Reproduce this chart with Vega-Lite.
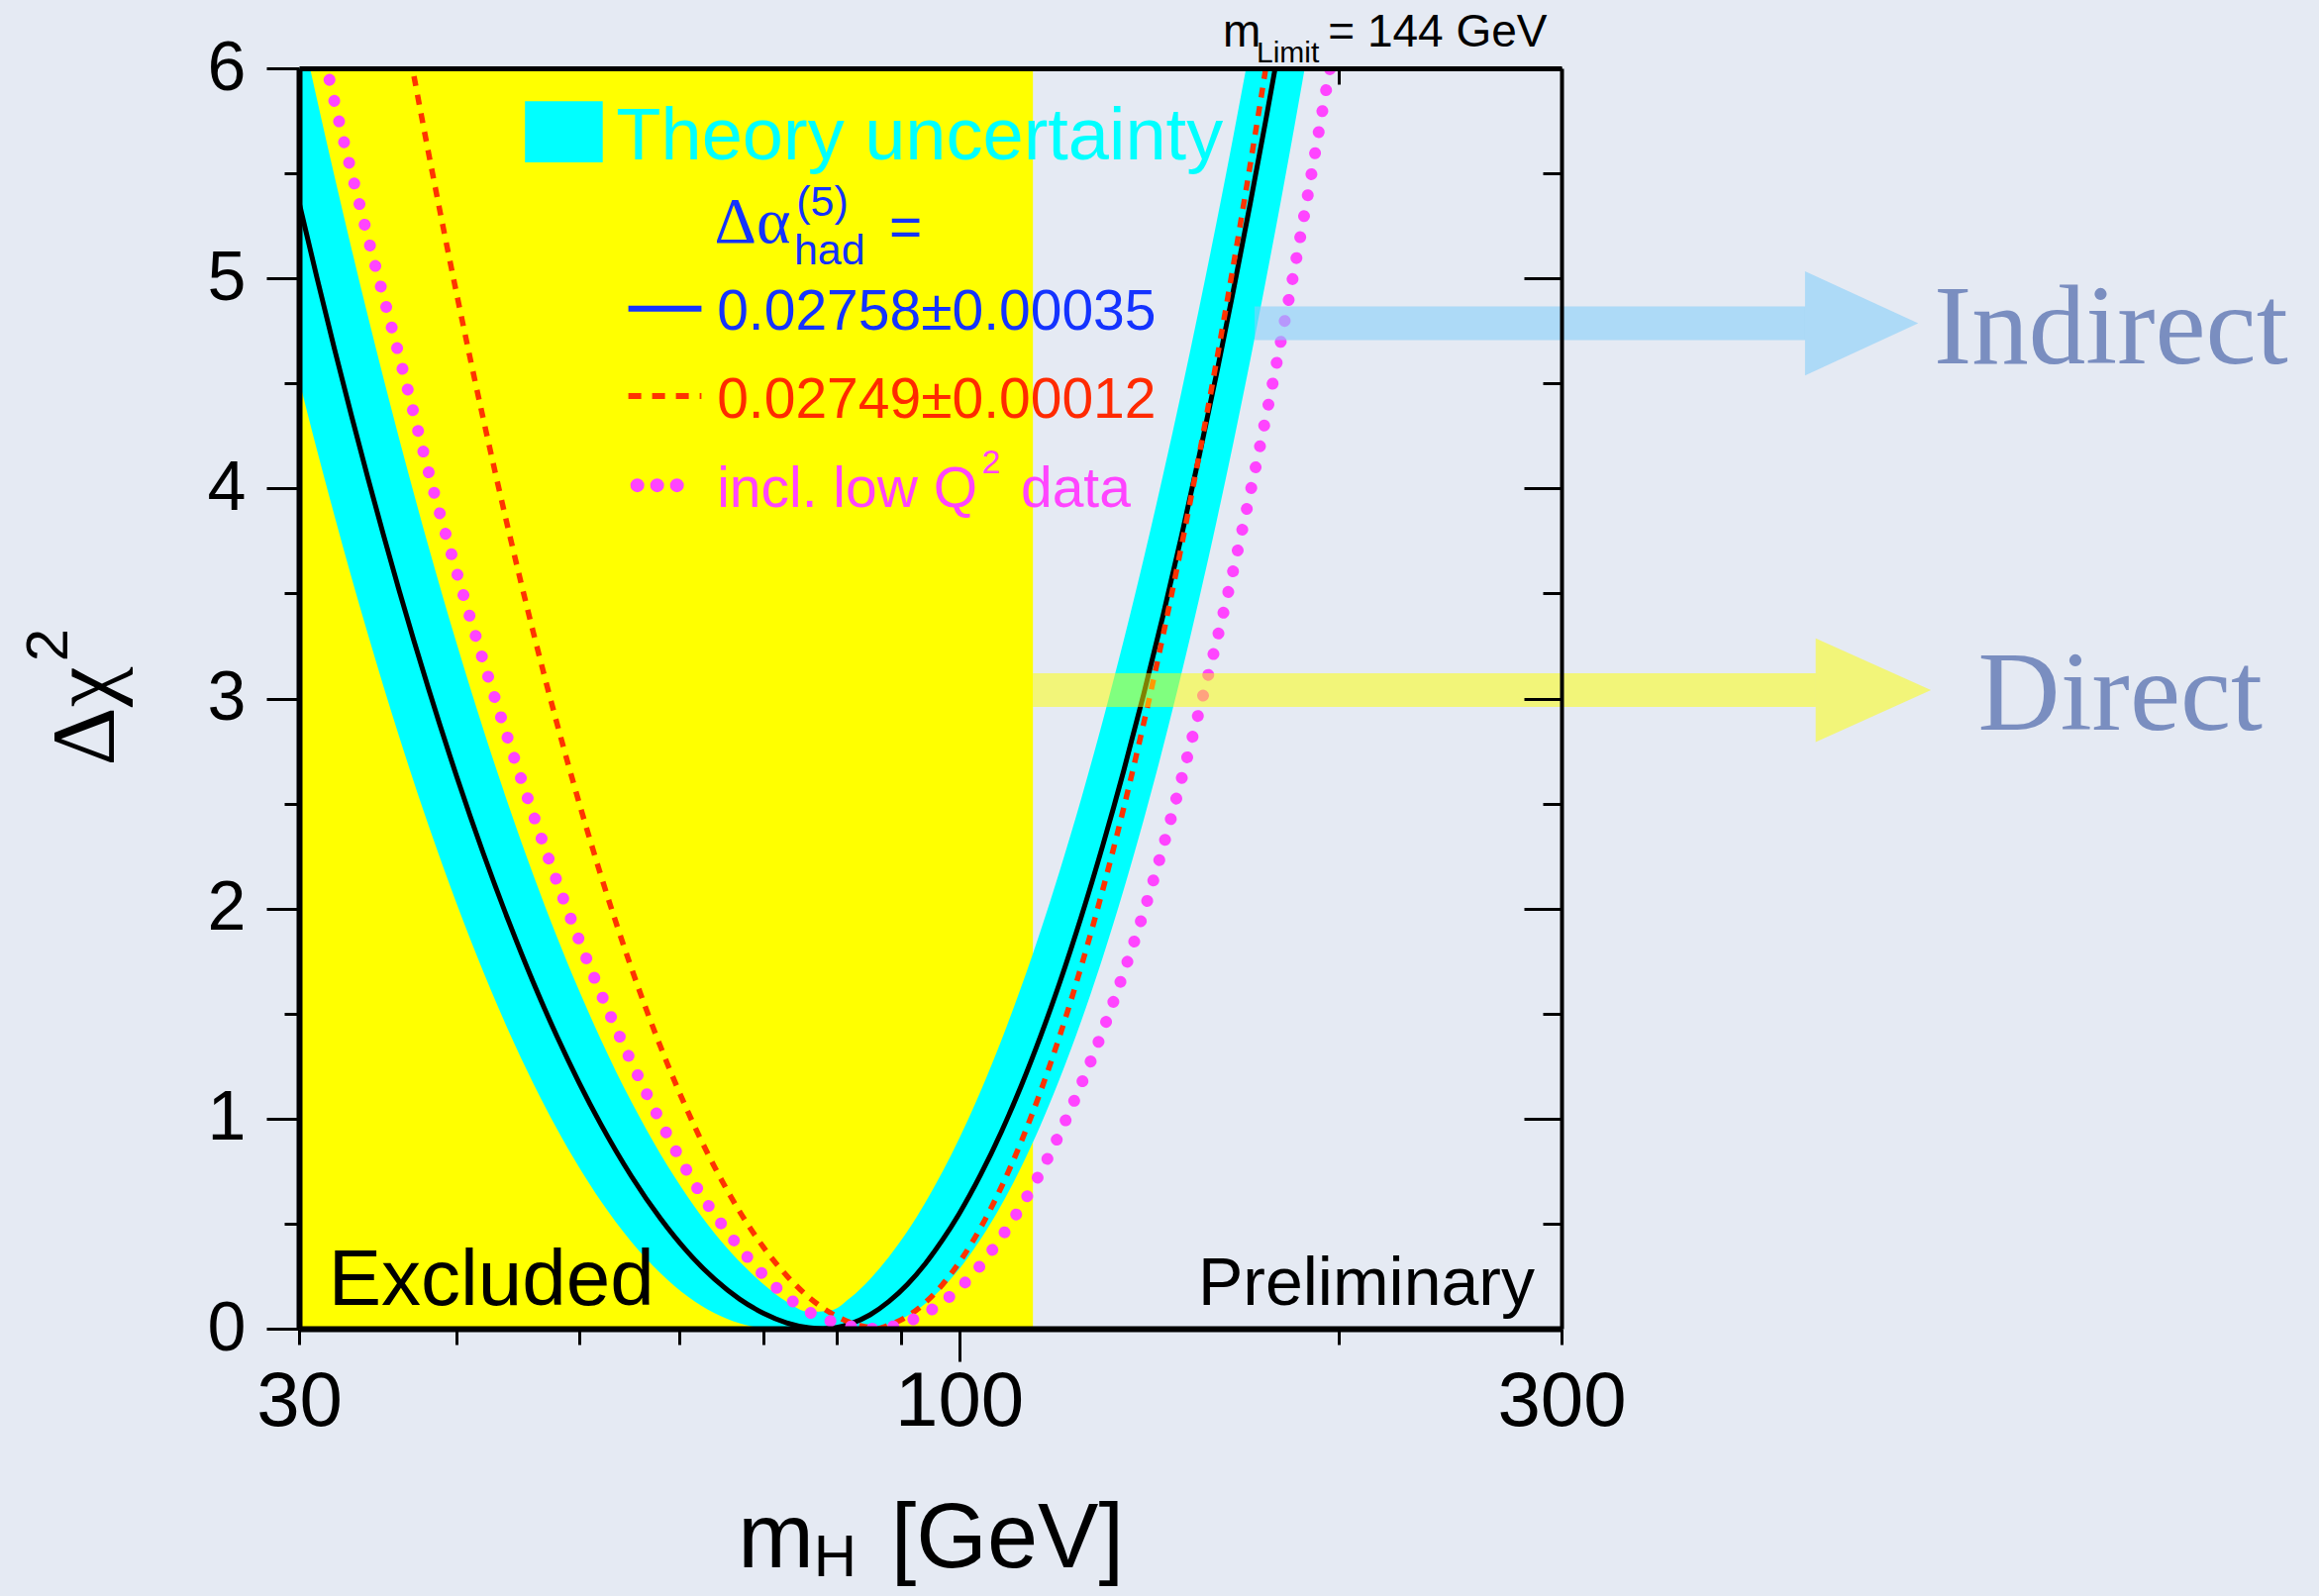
{
  "$schema": "https://vega.github.io/schema/vega-lite/v6.json",
  "width": 1275,
  "height": 1273,
  "autosize": {"type": "none"},
  "padding": {"left": 302, "top": 69, "right": 765, "bottom": 270},
  "background": "#E5EAF3",
  "config": {"view": {"stroke": null}, "text": {"font": "Liberation Sans"}, "axis": {"labelFont": "Liberation Sans"}},
  "resolve": {"axis": {"x": "independent", "y": "independent"}},
  "datasets": {
    "excluded": [{"mH": 30, "mH2": 114.4, "lo": 0, "hi": 6}],
    "band": [
      {"mH": 30, "lo": 4.517, "hi": 6.239}, {"mH": 31, "lo": 4.182, "hi": 5.851}, {"mH": 32, "lo": 3.871, "hi": 5.487},
      {"mH": 33, "lo": 3.58, "hi": 5.146}, {"mH": 34, "lo": 3.31, "hi": 4.825}, {"mH": 35, "lo": 3.057, "hi": 4.523},
      {"mH": 36, "lo": 2.821, "hi": 4.24}, {"mH": 38, "lo": 2.394, "hi": 3.721}, {"mH": 40, "lo": 2.022, "hi": 3.26},
      {"mH": 42, "lo": 1.697, "hi": 2.85}, {"mH": 44, "lo": 1.413, "hi": 2.485}, {"mH": 46, "lo": 1.167, "hi": 2.159},
      {"mH": 48, "lo": 0.953, "hi": 1.868}, {"mH": 50, "lo": 0.768, "hi": 1.61}, {"mH": 52, "lo": 0.609, "hi": 1.379},
      {"mH": 55, "lo": 0.414, "hi": 1.08}, {"mH": 58, "lo": 0.264, "hi": 0.831}, {"mH": 61, "lo": 0.152, "hi": 0.625},
      {"mH": 64, "lo": 0.074, "hi": 0.455}, {"mH": 67, "lo": 0.026, "hi": 0.319}, {"mH": 70, "lo": 0.003, "hi": 0.211},
      {"mH": 73, "lo": 0, "hi": 0.128}, {"mH": 76, "lo": 0, "hi": 0.08}, {"mH": 79, "lo": 0, "hi": 0.085},
      {"mH": 82, "lo": 0, "hi": 0.147}, {"mH": 85, "lo": 0.002, "hi": 0.236}, {"mH": 88, "lo": 0.021, "hi": 0.343},
      {"mH": 91, "lo": 0.061, "hi": 0.464}, {"mH": 94, "lo": 0.119, "hi": 0.6}, {"mH": 97, "lo": 0.194, "hi": 0.747},
      {"mH": 100, "lo": 0.284, "hi": 0.905}, {"mH": 104, "lo": 0.426, "hi": 1.131}, {"mH": 108, "lo": 0.589, "hi": 1.373},
      {"mH": 112, "lo": 0.771, "hi": 1.628}, {"mH": 116, "lo": 0.969, "hi": 1.894}, {"mH": 120, "lo": 1.183, "hi": 2.171},
      {"mH": 125, "lo": 1.468, "hi": 2.528}, {"mH": 130, "lo": 1.771, "hi": 2.898}, {"mH": 135, "lo": 2.09, "hi": 3.277},
      {"mH": 140, "lo": 2.422, "hi": 3.665}, {"mH": 145, "lo": 2.765, "hi": 4.06}, {"mH": 150, "lo": 3.119, "hi": 4.46},
      {"mH": 155, "lo": 3.481, "hi": 4.865}, {"mH": 160, "lo": 3.85, "hi": 5.274}, {"mH": 165, "lo": 4.226, "hi": 5.687},
      {"mH": 170, "lo": 4.607, "hi": 6.101}, {"mH": 175, "lo": 4.994, "hi": 6.5}, {"mH": 180, "lo": 5.383, "hi": 6.9},
      {"mH": 185, "lo": 5.777, "hi": 7.3}, {"mH": 190, "lo": 6.173, "hi": 7.7}
    ],
    "curves": [
      {"mH": 30, "chi": 5.362, "series": "fit"}, {"mH": 31, "chi": 5.002, "series": "fit"}, {"mH": 32, "chi": 4.665, "series": "fit"},
      {"mH": 33, "chi": 4.35, "series": "fit"}, {"mH": 34, "chi": 4.054, "series": "fit"}, {"mH": 35, "chi": 3.777, "series": "fit"},
      {"mH": 36, "chi": 3.517, "series": "fit"}, {"mH": 38, "chi": 3.045, "series": "fit"}, {"mH": 40, "chi": 2.628, "series": "fit"},
      {"mH": 42, "chi": 2.26, "series": "fit"}, {"mH": 44, "chi": 1.935, "series": "fit"}, {"mH": 46, "chi": 1.647, "series": "fit"},
      {"mH": 48, "chi": 1.394, "series": "fit"}, {"mH": 50, "chi": 1.171, "series": "fit"}, {"mH": 52, "chi": 0.975, "series": "fit"},
      {"mH": 55, "chi": 0.726, "series": "fit"}, {"mH": 58, "chi": 0.524, "series": "fit"}, {"mH": 61, "chi": 0.362, "series": "fit"},
      {"mH": 64, "chi": 0.236, "series": "fit"}, {"mH": 67, "chi": 0.141, "series": "fit"}, {"mH": 70, "chi": 0.073, "series": "fit"},
      {"mH": 73, "chi": 0.028, "series": "fit"}, {"mH": 76, "chi": 0.005, "series": "fit"}, {"mH": 78, "chi": 0.0, "series": "fit"},
      {"mH": 80, "chi": 0.006, "series": "fit"}, {"mH": 82, "chi": 0.023, "series": "fit"}, {"mH": 85, "chi": 0.066, "series": "fit"},
      {"mH": 88, "chi": 0.13, "series": "fit"}, {"mH": 91, "chi": 0.211, "series": "fit"}, {"mH": 94, "chi": 0.309, "series": "fit"},
      {"mH": 97, "chi": 0.422, "series": "fit"}, {"mH": 100, "chi": 0.547, "series": "fit"}, {"mH": 104, "chi": 0.733, "series": "fit"},
      {"mH": 108, "chi": 0.937, "series": "fit"}, {"mH": 112, "chi": 1.157, "series": "fit"}, {"mH": 116, "chi": 1.392, "series": "fit"},
      {"mH": 120, "chi": 1.639, "series": "fit"}, {"mH": 125, "chi": 1.964, "series": "fit"}, {"mH": 130, "chi": 2.304, "series": "fit"},
      {"mH": 135, "chi": 2.656, "series": "fit"}, {"mH": 140, "chi": 3.02, "series": "fit"}, {"mH": 145, "chi": 3.392, "series": "fit"},
      {"mH": 150, "chi": 3.773, "series": "fit"}, {"mH": 155, "chi": 4.16, "series": "fit"}, {"mH": 160, "chi": 4.553, "series": "fit"},
      {"mH": 165, "chi": 4.951, "series": "fit"}, {"mH": 170, "chi": 5.353, "series": "fit"}, {"mH": 175, "chi": 5.758, "series": "fit"},
      {"mH": 180, "chi": 6.166, "series": "fit"},
      {"mH": 34, "chi": 7.197, "series": "alt"}, {"mH": 36, "chi": 6.349, "series": "alt"}, {"mH": 37, "chi": 5.961, "series": "alt"},
      {"mH": 38, "chi": 5.595, "series": "alt"}, {"mH": 40, "chi": 4.924, "series": "alt"}, {"mH": 42, "chi": 4.326, "series": "alt"},
      {"mH": 44, "chi": 3.791, "series": "alt"}, {"mH": 46, "chi": 3.313, "series": "alt"}, {"mH": 48, "chi": 2.886, "series": "alt"},
      {"mH": 50, "chi": 2.504, "series": "alt"}, {"mH": 52, "chi": 2.162, "series": "alt"}, {"mH": 55, "chi": 1.717, "series": "alt"},
      {"mH": 58, "chi": 1.343, "series": "alt"}, {"mH": 61, "chi": 1.03, "series": "alt"}, {"mH": 64, "chi": 0.771, "series": "alt"},
      {"mH": 67, "chi": 0.558, "series": "alt"}, {"mH": 70, "chi": 0.387, "series": "alt"}, {"mH": 73, "chi": 0.253, "series": "alt"},
      {"mH": 76, "chi": 0.15, "series": "alt"}, {"mH": 79, "chi": 0.077, "series": "alt"}, {"mH": 82, "chi": 0.029, "series": "alt"},
      {"mH": 85, "chi": 0.005, "series": "alt"}, {"mH": 86, "chi": 0.0, "series": "alt"}, {"mH": 88, "chi": 0.017, "series": "alt"},
      {"mH": 91, "chi": 0.059, "series": "alt"}, {"mH": 94, "chi": 0.124, "series": "alt"}, {"mH": 97, "chi": 0.21, "series": "alt"},
      {"mH": 100, "chi": 0.315, "series": "alt"}, {"mH": 104, "chi": 0.481, "series": "alt"}, {"mH": 108, "chi": 0.674, "series": "alt"},
      {"mH": 112, "chi": 0.891, "series": "alt"}, {"mH": 116, "chi": 1.129, "series": "alt"}, {"mH": 120, "chi": 1.385, "series": "alt"},
      {"mH": 125, "chi": 1.729, "series": "alt"}, {"mH": 130, "chi": 2.094, "series": "alt"}, {"mH": 135, "chi": 2.479, "series": "alt"},
      {"mH": 140, "chi": 2.881, "series": "alt"}, {"mH": 145, "chi": 3.297, "series": "alt"}, {"mH": 150, "chi": 3.726, "series": "alt"},
      {"mH": 155, "chi": 4.166, "series": "alt"}, {"mH": 160, "chi": 4.615, "series": "alt"}, {"mH": 165, "chi": 5.072, "series": "alt"},
      {"mH": 170, "chi": 5.537, "series": "alt"}, {"mH": 175, "chi": 6.007, "series": "alt"}, {"mH": 180, "chi": 6.482, "series": "alt"},
      {"mH": 30, "chi": 6.64, "series": "lowq2"}, {"mH": 31.7, "chi": 5.95, "series": "lowq2"}, {"mH": 33.9, "chi": 5.23, "series": "lowq2"},
      {"mH": 36.05, "chi": 4.62, "series": "lowq2"}, {"mH": 38.3, "chi": 4.0, "series": "lowq2"}, {"mH": 40.5, "chi": 3.49, "series": "lowq2"},
      {"mH": 44.6, "chi": 2.685, "series": "lowq2"}, {"mH": 49.7, "chi": 1.89, "series": "lowq2"}, {"mH": 56.6, "chi": 1.114, "series": "lowq2"},
      {"mH": 62.3, "chi": 0.65, "series": "lowq2"}, {"mH": 66.9, "chi": 0.391, "series": "lowq2"}, {"mH": 70.6, "chi": 0.232, "series": "lowq2"},
      {"mH": 75.1, "chi": 0.099, "series": "lowq2"}, {"mH": 80.8, "chi": 0.02, "series": "lowq2"}, {"mH": 86, "chi": 0.0, "series": "lowq2"},
      {"mH": 91.0, "chi": 0.033, "series": "lowq2"}, {"mH": 97.6, "chi": 0.138, "series": "lowq2"}, {"mH": 103.4, "chi": 0.284, "series": "lowq2"},
      {"mH": 108.5, "chi": 0.454, "series": "lowq2"}, {"mH": 113.2, "chi": 0.63, "series": "lowq2"}, {"mH": 117.7, "chi": 0.819, "series": "lowq2"},
      {"mH": 121.8, "chi": 1.01, "series": "lowq2"}, {"mH": 125.8, "chi": 1.207, "series": "lowq2"}, {"mH": 129.6, "chi": 1.4, "series": "lowq2"},
      {"mH": 133.2, "chi": 1.596, "series": "lowq2"}, {"mH": 140.3, "chi": 2.0, "series": "lowq2"}, {"mH": 154.6, "chi": 2.92, "series": "lowq2"},
      {"mH": 163.7, "chi": 3.53, "series": "lowq2"}, {"mH": 176.6, "chi": 4.46, "series": "lowq2"}, {"mH": 187.5, "chi": 5.29, "series": "lowq2"},
      {"mH": 195.6, "chi": 5.92, "series": "lowq2"}, {"mH": 200, "chi": 6.23, "series": "lowq2"}
    ],
    "legendbox": [{"mH": 45.3, "mH2": 52.2, "chi": 5.552, "chi2": 5.843}],
    "legendlines": [
      {"mH": 54.7, "chi": 4.856, "series": "fit"}, {"mH": 62.5, "chi": 4.856, "series": "fit"},
      {"mH": 54.7, "chi": 4.44, "series": "alt"}, {"mH": 62.5, "chi": 4.44, "series": "alt"},
      {"mH": 55.6, "chi": 4.015, "series": "lowq2"}, {"mH": 60.0, "chi": 4.015, "series": "lowq2"}
    ],
    "arrows": [
      {"mH": 171.4, "mH2": 467.8, "head": 518.6, "chi": 4.786, "kind": "indirect"},
      {"mH": 114.4, "mH2": 477.0, "head": 529.8, "chi": 3.04, "kind": "direct"}
    ],
    "notes": [
      {"mH": 53.5, "chi": 5.567, "text": "Theory uncertainty", "role": "theory"},
      {"mH": 64.0, "chi": 5.17, "text": "Δα", "role": "dalpha"},
      {"mH": 74.3, "chi": 5.297, "text": "(5)", "role": "small"},
      {"mH": 74.0, "chi": 5.065, "text": "had", "role": "small"},
      {"mH": 88.0, "chi": 5.151, "text": "=", "role": "blue"},
      {"mH": 64.3, "chi": 4.755, "text": "0.02758±0.00035", "role": "blue"},
      {"mH": 64.3, "chi": 4.337, "text": "0.02749±0.00012", "role": "red"},
      {"mH": 64.3, "chi": 3.913, "text": "incl. low Q", "role": "mag"},
      {"mH": 104.2, "chi": 4.07, "text": "2", "role": "magsup"},
      {"mH": 111.9, "chi": 3.913, "text": "data", "role": "mag"},
      {"mH": 31.65, "chi": 0.112, "text": "Excluded", "role": "excl"},
      {"mH": 285.7, "chi": 0.112, "text": "Preliminary", "role": "prelim"},
      {"mH": 161.8, "chi": 6.105, "text": "m", "role": "lim"},
      {"mH": 172.0, "chi": 6.028, "text": "Limit", "role": "limsub"},
      {"mH": 196.0, "chi": 6.105, "text": "= 144 GeV", "role": "lim"},
      {"mH": 66.8, "chi": -1.136, "text": "m", "role": "xt"},
      {"mH": 76.7, "chi": -1.18, "text": "H", "role": "xtsub"},
      {"mH": 88.3, "chi": -1.136, "text": "[GeV]", "role": "xt"},
      {"mH": 21.41, "chi": 2.915, "text": "Δχ", "role": "yt"},
      {"mH": 19.66, "chi": 3.254, "text": "2", "role": "ytsup"},
      {"mH": 591.6, "chi": 4.595, "text": "Indirect", "role": "side"},
      {"mH": 641.2, "chi": 2.853, "text": "Direct", "role": "side"}
    ]
  },
  "encoding": {
    "x": {"field": "mH", "type": "quantitative", "scale": {"type": "log", "domain": [30, 300], "nice": false}, "axis": null},
    "y": {"field": "chi", "type": "quantitative", "scale": {"domain": [0, 6], "nice": false, "zero": false}, "axis": null}
  },
  "layer": [
    {
      "data": {"name": "excluded"},
      "mark": {"type": "rect", "fill": "#FFFF00", "opacity": 1},
      "encoding": {
        "x": {"field": "mH", "type": "quantitative", "scale": {"type": "log", "domain": [30, 300], "nice": false},
              "axis": {"orient": "top", "values": [200], "labels": false, "tickSize": -16, "tickWidth": 3, "tickColor": "black", "domainColor": "black", "domainWidth": 5, "grid": false, "title": null, "zindex": 1}},
        "x2": {"field": "mH2"},
        "y": {"field": "lo", "type": "quantitative", "scale": {"domain": [0, 6], "nice": false, "zero": false},
              "axis": {"orient": "right", "values": [0, 0.5, 1, 1.5, 2, 2.5, 3, 3.5, 4, 4.5, 5, 5.5, 6], "labels": false, "tickSize": -38, "tickWidth": 3, "tickColor": "black",
                       "tickDash": {"condition": {"test": "datum.value % 1 != 0", "value": [19, 100]}, "value": [100, 1]},
                       "domainColor": "black", "domainWidth": 4, "grid": false, "title": null, "zindex": 1}},
        "y2": {"field": "hi"}
      }
    },
    {
      "data": {"name": "band"},
      "mark": {"type": "area", "color": "#00FFFF", "interpolate": "monotone", "clip": true},
      "encoding": {
        "x": {"field": "mH", "type": "quantitative", "scale": {"type": "log", "domain": [30, 300], "nice": false},
              "axis": {"orient": "bottom", "values": [30, 40, 50, 60, 70, 80, 90, 100, 200, 300],
                       "labelExpr": "(datum.value == 30 || datum.value == 100 || datum.value == 300) ? format(datum.value, 'd') : ''",
                       "labelFontSize": 78, "labelColor": "black", "labelPadding": 2, "labelFlush": false, "labelOverlap": false,
                       "tickSize": 33, "tickWidth": 3, "tickColor": "black",
                       "tickDash": {"condition": {"test": "datum.value == 100", "value": [100, 1]}, "value": [16, 100]},
                       "domainColor": "black", "domainWidth": 6, "grid": false, "title": null, "zindex": 1}},
        "y": {"field": "lo", "type": "quantitative", "scale": {"domain": [0, 6], "nice": false, "zero": false},
              "axis": {"orient": "left", "values": [0, 0.5, 1, 1.5, 2, 2.5, 3, 3.5, 4, 4.5, 5, 5.5, 6],
                       "labelExpr": "datum.value % 1 == 0 ? format(datum.value, 'd') : ''",
                       "labelFontSize": 70, "labelColor": "black", "labelPadding": 21, "labelOverlap": false, "labelFlush": false,
                       "tickSize": 33, "tickWidth": 3, "tickColor": "black",
                       "tickDash": {"condition": {"test": "datum.value % 1 != 0", "value": [15, 100]}, "value": [100, 1]},
                       "domainColor": "black", "domainWidth": 6, "grid": false, "title": null, "zindex": 1}},
        "y2": {"field": "hi"}
      }
    },
    {
      "data": {"name": "curves"},
      "transform": [{"filter": "datum.series == 'fit'"}],
      "mark": {"type": "line", "color": "black", "strokeWidth": 5, "interpolate": "monotone", "clip": true}
    },
    {
      "data": {"name": "curves"},
      "transform": [{"filter": "datum.series == 'alt'"}],
      "mark": {"type": "line", "color": "#FF3300", "strokeWidth": 5.5, "strokeDash": [10, 9], "interpolate": "monotone", "clip": true}
    },
    {
      "data": {"name": "curves"},
      "transform": [{"filter": "datum.series == 'lowq2'"}],
      "mark": {"type": "line", "color": "#FF44FF", "strokeWidth": 12, "strokeDash": [0.01, 21.5], "strokeCap": "round", "interpolate": "monotone", "clip": true}
    },
    {
      "data": {"name": "legendbox"},
      "mark": {"type": "rect", "color": "#00FFFF"},
      "encoding": {"x2": {"field": "mH2"}, "y2": {"field": "chi2"}}
    },
    {
      "data": {"name": "legendlines"},
      "transform": [{"filter": "datum.series == 'fit'"}],
      "mark": {"type": "line", "color": "#1433FF", "strokeWidth": 6}
    },
    {
      "data": {"name": "legendlines"},
      "transform": [{"filter": "datum.series == 'alt'"}],
      "mark": {"type": "line", "color": "#FF3300", "strokeWidth": 6, "strokeDash": [13, 11]}
    },
    {
      "data": {"name": "legendlines"},
      "transform": [{"filter": "datum.series == 'lowq2'"}],
      "mark": {"type": "line", "color": "#FF44FF", "strokeWidth": 14, "strokeDash": [0.01, 20], "strokeCap": "round"}
    },
    {
      "data": {"name": "notes"},
      "transform": [{"filter": "datum.role == 'theory'"}],
      "mark": {"type": "text", "align": "left", "baseline": "alphabetic", "fontSize": 74, "color": "#00FFFF"},
      "encoding": {"text": {"field": "text"}}
    },
    {
      "data": {"name": "notes"},
      "transform": [{"filter": "datum.role == 'dalpha'"}],
      "mark": {"type": "text", "align": "left", "baseline": "alphabetic", "fontSize": 66, "font": "Liberation Serif", "color": "#1433FF"},
      "encoding": {"text": {"field": "text"}}
    },
    {
      "data": {"name": "notes"},
      "transform": [{"filter": "datum.role == 'small'"}],
      "mark": {"type": "text", "align": "left", "baseline": "alphabetic", "fontSize": 43, "color": "#1433FF"},
      "encoding": {"text": {"field": "text"}}
    },
    {
      "data": {"name": "notes"},
      "transform": [{"filter": "datum.role == 'blue'"}],
      "mark": {"type": "text", "align": "left", "baseline": "alphabetic", "fontSize": 57, "color": "#1433FF"},
      "encoding": {"text": {"field": "text"}}
    },
    {
      "data": {"name": "notes"},
      "transform": [{"filter": "datum.role == 'red'"}],
      "mark": {"type": "text", "align": "left", "baseline": "alphabetic", "fontSize": 57, "color": "#FF2A00"},
      "encoding": {"text": {"field": "text"}}
    },
    {
      "data": {"name": "notes"},
      "transform": [{"filter": "datum.role == 'mag'"}],
      "mark": {"type": "text", "align": "left", "baseline": "alphabetic", "fontSize": 57, "color": "#FF44FF"},
      "encoding": {"text": {"field": "text"}}
    },
    {
      "data": {"name": "notes"},
      "transform": [{"filter": "datum.role == 'magsup'"}],
      "mark": {"type": "text", "align": "left", "baseline": "alphabetic", "fontSize": 34, "color": "#FF44FF"},
      "encoding": {"text": {"field": "text"}}
    },
    {
      "data": {"name": "notes"},
      "transform": [{"filter": "datum.role == 'excl'"}],
      "mark": {"type": "text", "align": "left", "baseline": "alphabetic", "fontSize": 80, "color": "black"},
      "encoding": {"text": {"field": "text"}}
    },
    {
      "data": {"name": "notes"},
      "transform": [{"filter": "datum.role == 'prelim'"}],
      "mark": {"type": "text", "align": "right", "baseline": "alphabetic", "fontSize": 68, "color": "black"},
      "encoding": {"text": {"field": "text"}}
    },
    {
      "data": {"name": "notes"},
      "transform": [{"filter": "datum.role == 'lim'"}],
      "mark": {"type": "text", "align": "left", "baseline": "alphabetic", "fontSize": 46, "color": "black"},
      "encoding": {"text": {"field": "text"}}
    },
    {
      "data": {"name": "notes"},
      "transform": [{"filter": "datum.role == 'limsub'"}],
      "mark": {"type": "text", "align": "left", "baseline": "alphabetic", "fontSize": 30, "color": "black"},
      "encoding": {"text": {"field": "text"}}
    },
    {
      "data": {"name": "notes"},
      "transform": [{"filter": "datum.role == 'xt'"}],
      "mark": {"type": "text", "align": "left", "baseline": "alphabetic", "fontSize": 92, "color": "black"},
      "encoding": {"text": {"field": "text"}}
    },
    {
      "data": {"name": "notes"},
      "transform": [{"filter": "datum.role == 'xtsub'"}],
      "mark": {"type": "text", "align": "left", "baseline": "alphabetic", "fontSize": 60, "color": "black"},
      "encoding": {"text": {"field": "text"}}
    },
    {
      "data": {"name": "notes"},
      "transform": [{"filter": "datum.role == 'yt'"}],
      "mark": {"type": "text", "align": "center", "baseline": "alphabetic", "fontSize": 92, "font": "Liberation Serif", "angle": 270, "color": "black"},
      "encoding": {"text": {"field": "text"}}
    },
    {
      "data": {"name": "notes"},
      "transform": [{"filter": "datum.role == 'ytsup'"}],
      "mark": {"type": "text", "align": "center", "baseline": "alphabetic", "fontSize": 60, "angle": 270, "color": "black"},
      "encoding": {"text": {"field": "text"}}
    },
    {
      "data": {"name": "notes"},
      "transform": [{"filter": "datum.role == 'side'"}],
      "mark": {"type": "text", "align": "left", "baseline": "alphabetic", "fontSize": 115, "font": "Liberation Serif", "color": "#7A8EC0"},
      "encoding": {"text": {"field": "text"}}
    },
    {
      "data": {"name": "arrows"},
      "transform": [{"filter": "datum.kind == 'indirect'"}],
      "mark": {"type": "rule", "color": "#87CEFA", "strokeWidth": 34, "opacity": 0.6},
      "encoding": {"x2": {"field": "mH2"}}
    },
    {
      "data": {"name": "arrows"},
      "transform": [{"filter": "datum.kind == 'indirect'"}],
      "mark": {"type": "point", "shape": "M -1 -0.92 L 1 0 L -1 0.92 Z", "filled": true, "size": 13064, "color": "#87CEFA", "opacity": 0.6, "strokeWidth": 0},
      "encoding": {"x": {"field": "head", "type": "quantitative", "scale": {"type": "log", "domain": [30, 300], "nice": false}, "axis": null}}
    },
    {
      "data": {"name": "arrows"},
      "transform": [{"filter": "datum.kind == 'direct'"}],
      "mark": {"type": "rule", "color": "#FFFF00", "strokeWidth": 34, "opacity": 0.5},
      "encoding": {"x2": {"field": "mH2"}}
    },
    {
      "data": {"name": "arrows"},
      "transform": [{"filter": "datum.kind == 'direct'"}],
      "mark": {"type": "point", "shape": "M -1 -0.9 L 1 0 L -1 0.9 Z", "filled": true, "size": 13549, "color": "#FFFF00", "opacity": 0.5, "strokeWidth": 0},
      "encoding": {"x": {"field": "head", "type": "quantitative", "scale": {"type": "log", "domain": [30, 300], "nice": false}, "axis": null}}
    }
  ]
}
